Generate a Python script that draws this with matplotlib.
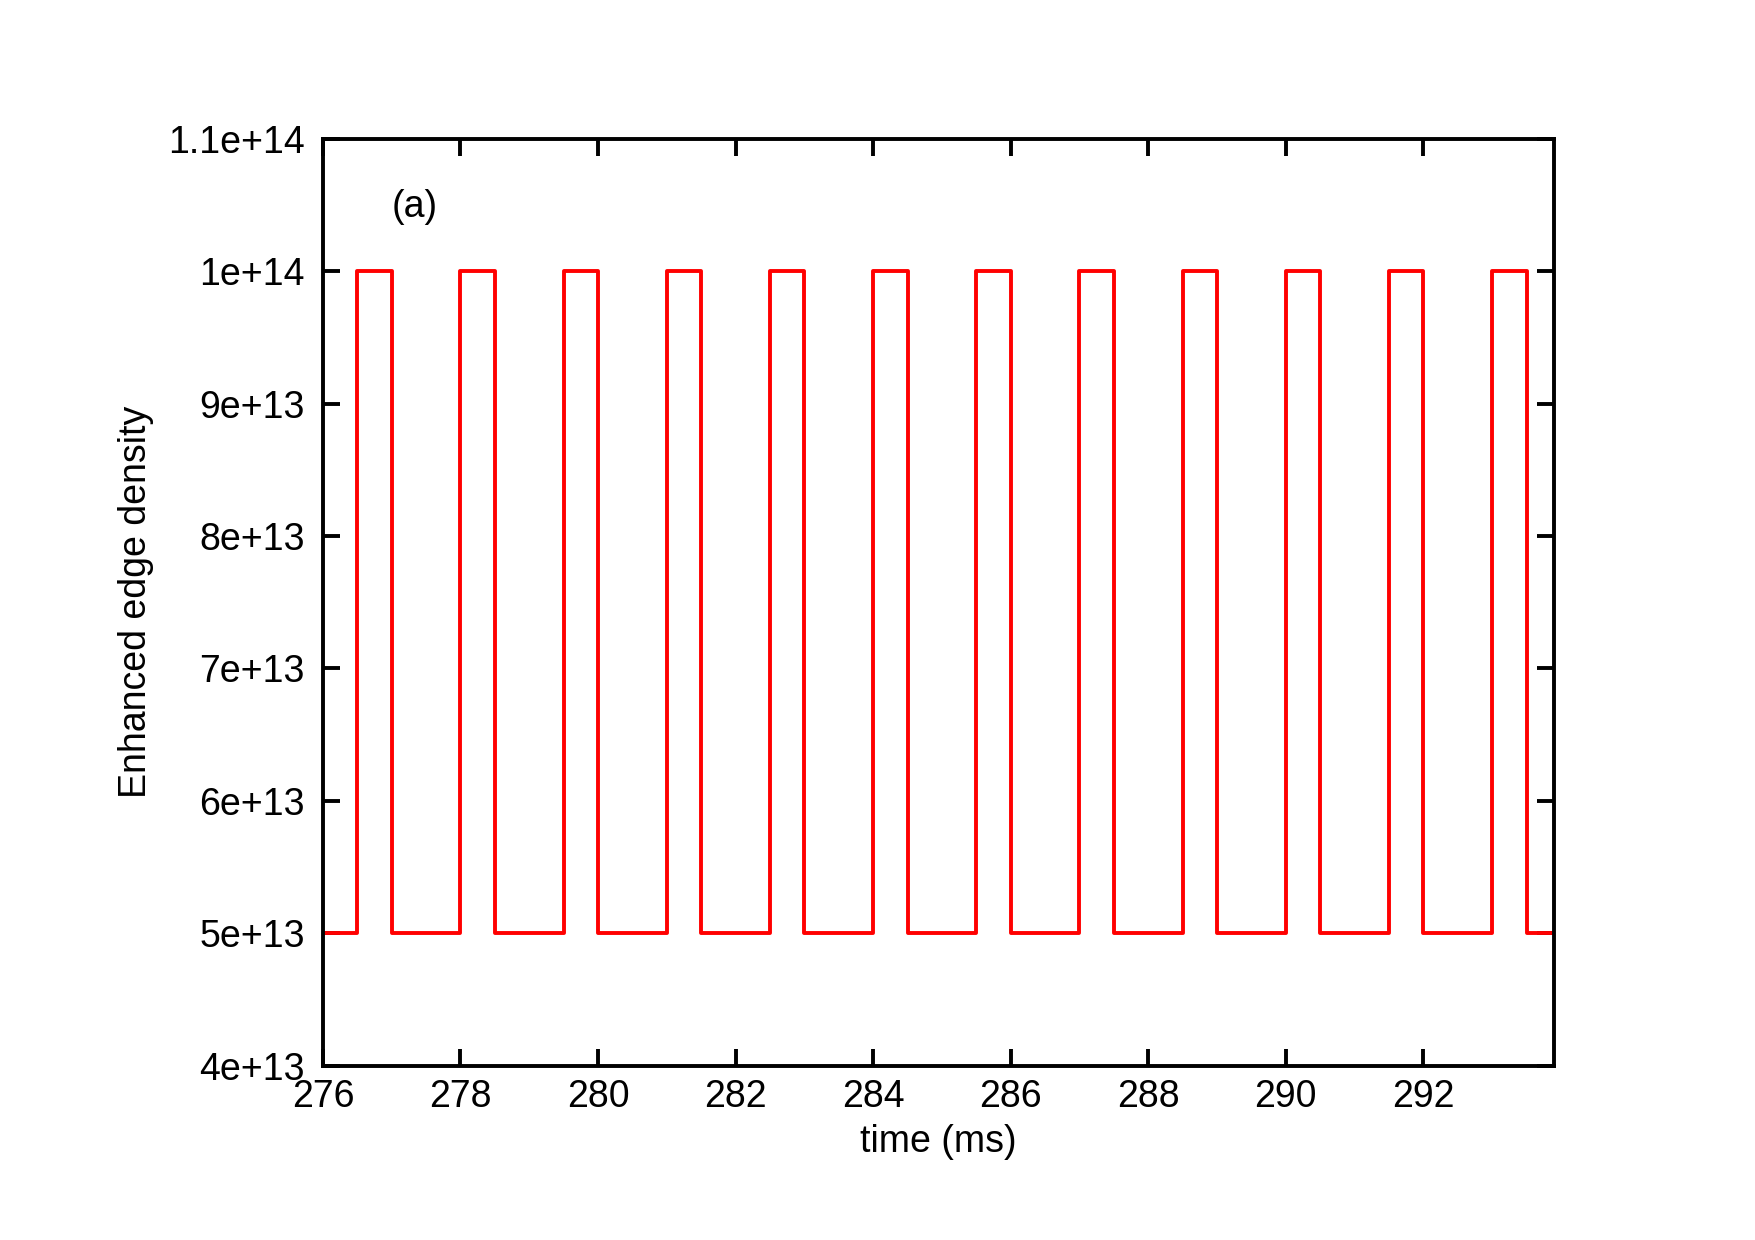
"""Enhanced edge density pulse train, panel (a)."""
import matplotlib
matplotlib.use("Agg")
import matplotlib.pyplot as plt

# step transitions (ms) and density values at each breakpoint
time_ms = [276.0, 276.5, 276.5, 277.0, 277.0, 278.0, 278.0, 278.5, 278.5,
           279.5, 279.5, 280.0, 280.0, 281.0, 281.0, 281.5, 281.5, 282.5,
           282.5, 283.0, 283.0, 284.0, 284.0, 284.5, 284.5, 285.5, 285.5,
           286.0, 286.0, 287.0, 287.0, 287.5, 287.5, 288.5, 288.5, 289.0,
           289.0, 290.0, 290.0, 290.5, 290.5, 291.5, 291.5, 292.0, 292.0,
           293.0, 293.0, 293.5, 293.5, 293.9]
density = [5e13, 5e13, 1e14, 1e14, 5e13, 5e13, 1e14, 1e14, 5e13,
           5e13, 1e14, 1e14, 5e13, 5e13, 1e14, 1e14, 5e13, 5e13,
           1e14, 1e14, 5e13, 5e13, 1e14, 1e14, 5e13, 5e13, 1e14,
           1e14, 5e13, 5e13, 1e14, 1e14, 5e13, 5e13, 1e14, 1e14,
           5e13, 5e13, 1e14, 1e14, 5e13, 5e13, 1e14, 1e14, 5e13,
           5e13, 1e14, 1e14, 5e13, 5e13]

x_ticks = [276, 278, 280, 282, 284, 286, 288, 290, 292]
y_ticks = [4e13, 5e13, 6e13, 7e13, 8e13, 9e13, 1e14, 1.1e14]
y_tick_labels = ["4e+13", "5e+13", "6e+13", "7e+13", "8e+13", "9e+13",
                 "1e+14", "1.1e+14"]

plt.rcParams["font.family"] = ["Liberation Sans", "DejaVu Sans"]
FS = 27

fig = plt.figure(figsize=(17.55, 12.40), dpi=100)
ax = fig.add_axes([0.184, 0.1407, 0.7015, 0.7472])

ax.plot(time_ms, density, color="#ff0000", linewidth=2.8)

ax.set_xlim(276, 293.9)
ax.set_ylim(4e13, 1.1e14)
ax.set_xticks(x_ticks)
ax.set_xticklabels([str(t) for t in x_ticks])
ax.set_yticks(y_ticks)
ax.set_yticklabels(y_tick_labels)

ax.tick_params(direction="in", length=12, width=2.8, labelsize=FS,
               top=True, right=True, pad=13)
ax.tick_params(axis="x", pad=10)
for sp in ax.spines.values():
    sp.set_linewidth(2.8)

ax.set_xlabel("time (ms)", fontsize=FS, labelpad=6)
ax.set_ylabel("Enhanced edge density", fontsize=FS, labelpad=10)

ax.text(277.0, 1.049e14, "(a)", fontsize=FS, va="center", ha="left")

fig.savefig("out.png", dpi=100)
